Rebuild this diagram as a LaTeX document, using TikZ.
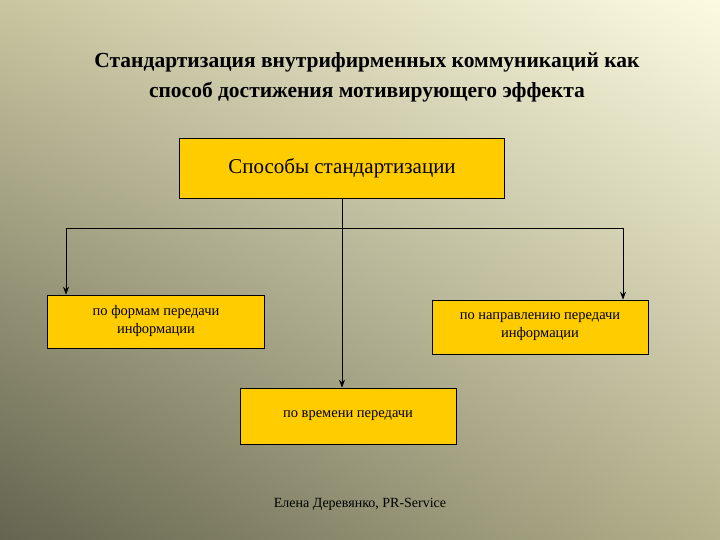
\documentclass[tikz,border=0pt]{standalone}
\usepackage{fontspec}
\setmainfont{Liberation Serif}
\usetikzlibrary{shadings,arrows.meta}
\definecolor{bgll}{RGB}{100,100,80}
\definecolor{bgur}{RGB}{252,250,225}
\definecolor{bgul}{RGB}{200,198,160}
\definecolor{bglr}{RGB}{180,178,140}
\definecolor{boxy}{RGB}{255,204,0}
\begin{document}
\begin{tikzpicture}[x=1pt,y=-1pt,
  box/.style={draw=black,fill=boxy,line width=0.7pt,inner sep=0pt},
  conn/.style={line width=0.7pt},
  arr/.style={conn,-{Stealth[length=8pt,width=6pt]}}]
\useasboundingbox (0,0) rectangle (720,540);
\shade[lower left=bgll,upper right=bgur,upper left=bgul,lower right=bglr] (0,540) rectangle (720,0);
\node[font=\bfseries\fontsize{21.5}{30}\selectfont,align=center] (title) at (367,77)
 {Стандартизация внутрифирменных коммуникаций как\\ способ достижения мотивирующего эффекта};
\node[box,minimum width=325,minimum height=60,font=\fontsize{21}{24}\selectfont] (main) at (342,168) {Способы стандартизации};
\node[box,minimum width=217,minimum height=53] (left) at (156,321.5) {};
\node[font=\fontsize{14.5}{18}\selectfont,align=center,anchor=north] (lt) at (156,302) {по формам передачи\\информации};
\node[box,minimum width=216,minimum height=54,font=\fontsize{14.5}{18}\selectfont,align=center] (right) at (540,327) {по направлению передачи\\информации};
\node[box,minimum width=216,minimum height=56,font=\fontsize{14.5}{18}\selectfont] (mid) at (348,416) {по времени передачи};
\node[font=\fontsize{14}{16}\selectfont] (foot) at (360,504) {Елена Деревянко, PR-Service};
\coordinate (j) at (342,228);
\coordinate (jl) at (66,228);
\coordinate (jr) at (623,228);
\draw[conn] (main.south) -- (j);
\draw[conn] (jl) -- (jr);
\draw[arr] (jl) -- (jl |- left.north);
\draw[arr] (jr) -- (jr |- right.north);
\draw[arr] (j) -- (j |- mid.north);
\end{tikzpicture}
\end{document}
